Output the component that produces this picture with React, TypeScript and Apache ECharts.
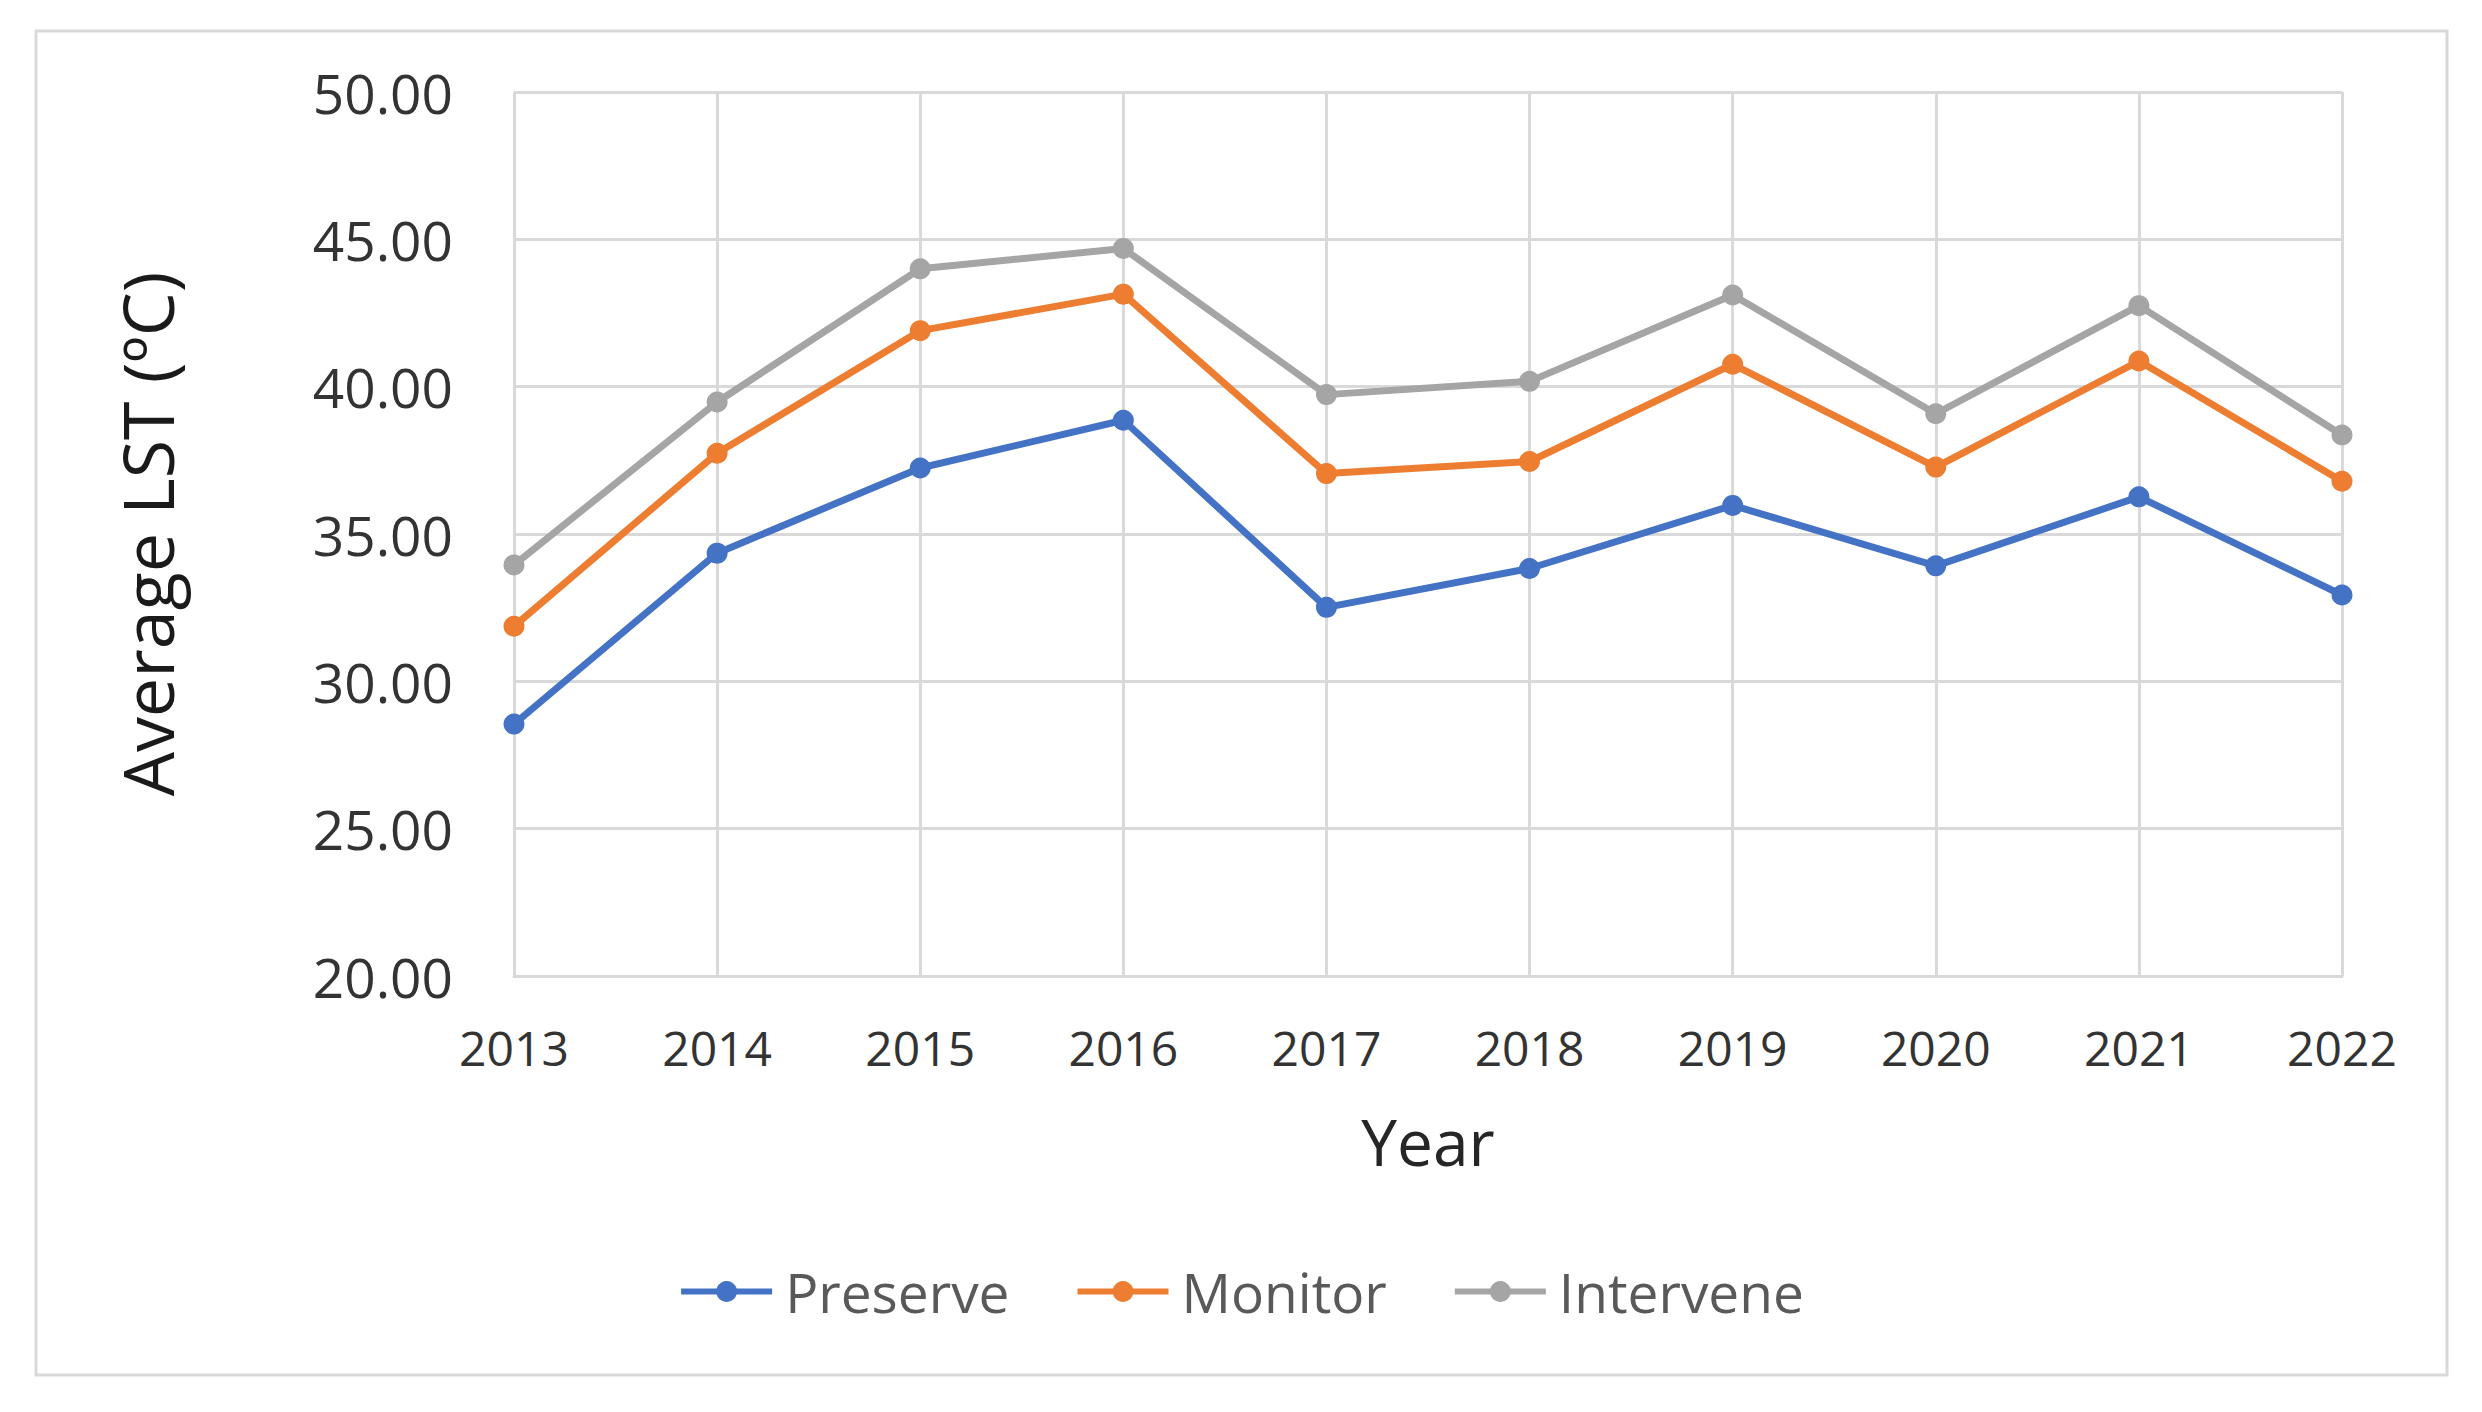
import React, { useEffect, useRef } from "react";
import * as echarts from "echarts";

const years = ["2013", "2014", "2015", "2016", "2017", "2018", "2019", "2020", "2021", "2022"];
const preserve = [28.55, 34.35, 37.24, 38.86, 32.51, 33.83, 35.97, 33.92, 36.26, 32.93];
const monitor = [31.87, 37.74, 41.9, 43.14, 37.05, 37.46, 40.76, 37.27, 40.87, 36.79];
const intervene = [33.95, 39.48, 44.0, 44.69, 39.73, 40.18, 43.11, 39.08, 42.75, 38.36];
const seriesNames = ["Preserve", "Monitor", "Intervene"];
const seriesColors = ["#4472C4", "#ED7D31", "#A5A5A5"];

const FONT = "Open Sans";

export default function App() {
  const ref = useRef<HTMLDivElement>(null);
  useEffect(() => {
    if (!ref.current) return;
    const chart = echarts.init(ref.current, null, { renderer: "svg" });
    const data = [preserve, monitor, intervene];
    chart.setOption({
      animation: false,
      backgroundColor: "#ffffff",
      graphic: [
        {
          type: "rect",
          shape: { x: 36, y: 31, width: 2411, height: 1344 },
          style: { fill: "none", stroke: "#d9d9d9", lineWidth: 3 },
          silent: true,
        },
      ],
      grid: { left: 514, right: 140, top: 92, bottom: 436, containLabel: false },
      legend: {
        data: seriesNames,
        left: "center",
        top: 1259,
        itemWidth: 91,
        itemHeight: 26,
        itemGap: 65,
        lineStyle: { width: 6 },
        textStyle: { fontFamily: FONT, fontSize: 55, color: "#595959", padding: [0, 0, 0, 8] },
      },
      xAxis: {
        type: "category",
        data: years,
        boundaryGap: false,
        name: "Year",
        nameLocation: "middle",
        nameGap: 133,
        nameTextStyle: { fontFamily: FONT, fontSize: 64, color: "#262626" },
        axisLine: { show: true, lineStyle: { color: "#d9d9d9", width: 3 } },
        axisTick: { show: false },
        axisLabel: { fontFamily: FONT, fontSize: 48, color: "#333333", margin: 47 },
        splitLine: { show: true, lineStyle: { color: "#d9d9d9", width: 3 } },
      },
      yAxis: {
        type: "value",
        min: 20,
        max: 50,
        interval: 5,
        name: "Average LST (ºC)",
        nameLocation: "middle",
        nameGap: 332,
        nameRotate: 90,
        nameTextStyle: { fontFamily: FONT, fontSize: 70, color: "#1a1a1a" },
        axisLine: { show: false },
        axisTick: { show: false },
        axisLabel: {
          fontFamily: FONT,
          fontSize: 55,
          color: "#333333",
          margin: 61,
          formatter: (v: number) => v.toFixed(2),
        },
        splitLine: { show: true, lineStyle: { color: "#d9d9d9", width: 3 } },
      },
      series: seriesNames.map((name, i) => ({
        name,
        type: "line",
        data: data[i],
        symbol: "circle",
        symbolSize: 21,
        color: seriesColors[i],
        lineStyle: { width: 7, color: seriesColors[i] },
        itemStyle: { color: seriesColors[i] },
        z: 2 + i,
      })),
    });
    return () => chart.dispose();
  }, []);
  return (
    <div
      ref={ref}
      style={{ position: "fixed", left: 0, top: 0, width: 2482, height: 1412 }}
    />
  );
}
